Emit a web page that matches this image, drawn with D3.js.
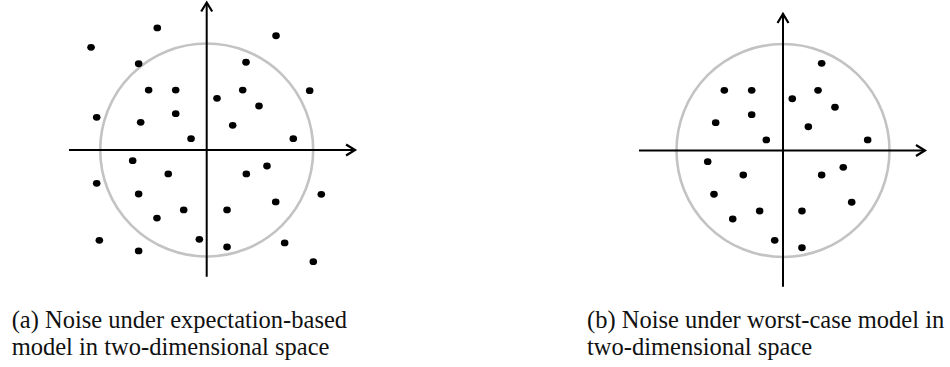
<!DOCTYPE html>
<html>
<head>
<meta charset="utf-8">
<script src="https://cdn.jsdelivr.net/npm/d3@7"></script>
<style>
  html, body { margin: 0; padding: 0; background: #fff; }
  svg { display: block; }
</style>
</head>
<body>
<svg id="chart" width="950" height="367"></svg>
<script>
// ---- Data (noise samples, circle radius = 100 units) ----
const noiseAX = [-108.6,-46.4,65.1,-63.9,36.9,-54.5,-29.1,33.8,96.7,9.7,49.1,-103.3,-62.0,-29.1,24.4,-14.7,81.3,-69.5,-36.1,-103.3,-63.9,37.2,56.6,107.6,64.8,-21.6,-46.7,19.1,-100.8,-63.9,-6.9,19.1,73.2,100.1];
const noiseAY = [96.4,114.6,107.3,81.0,82.4,56.3,56.3,56.3,55.7,48.5,41.3,30.7,26.0,34.1,23.2,10.6,10.6,-10.0,-22.5,-31.3,-41.3,-22.5,-15.0,-41.6,-48.8,-56.3,-63.9,-56.3,-84.8,-94.8,-83.9,-91.1,-87.3,-104.9];
const noiseBX = [36.3,-55.1,-29.4,32.9,8.7,48.8,-63.2,-29.4,23.8,-15.7,79.5,-70.7,-37.3,-64.8,36.3,56.6,64.5,-21.9,-47.2,17.8,-7.8,17.8];
const noiseBY = [81.9,56.5,56.5,56.5,48.6,40.6,26.1,33.6,22.3,9.9,9.9,-10.5,-23.0,-41.1,-23.0,-15.8,-48.6,-56.8,-64.3,-56.8,-84.3,-91.3];
const boundRadius = 100;
const captionA = ["(a) Noise under expectation-based", "model in two-dimensional space"];
const captionB = ["(b) Noise under worst-case model in", "two-dimensional space"];

// ---- Layout ----
const svg = d3.select("#chart");
const pxPerUnit = 1.065;
const panels = [
  { xs: noiseAX, ys: noiseAY, cx: 206.7, cy: 150, xExt: [-129.3, 139.3], yExt: [138.5, -119], caption: captionA, capX: 11.7 },
  { xs: noiseBX, ys: noiseBY, cx: 783, cy: 150.5, xExt: [-135.2, 133.3], yExt: [128.2, -127.9], caption: captionB, capX: 587 }
];

function arrowHead(g, tipX, tipY, dir) {
  const L = 9, W = 5.5;
  let pts;
  if (dir === "right") pts = [[tipX - L, tipY - W], [tipX, tipY], [tipX - L, tipY + W]];
  else pts = [[tipX - W, tipY + L], [tipX, tipY], [tipX + W, tipY + L]];
  g.append("path")
    .attr("d", d3.line()(pts))
    .attr("fill", "none")
    .attr("stroke", "#000")
    .attr("stroke-width", 2.2)
    .attr("stroke-linejoin", "miter");
}

panels.forEach(p => {
  const x = d3.scaleLinear().domain([-100, 100]).range([p.cx - 100 * pxPerUnit, p.cx + 100 * pxPerUnit]);
  const y = d3.scaleLinear().domain([-100, 100]).range([p.cy + 100 * pxPerUnit, p.cy - 100 * pxPerUnit]);
  const g = svg.append("g");

  g.append("circle")
    .attr("cx", x(0)).attr("cy", y(0))
    .attr("r", x(boundRadius) - x(0))
    .attr("fill", "none")
    .attr("stroke", "#c3c3c3")
    .attr("stroke-width", 2.6);

  g.append("line")
    .attr("x1", x(p.xExt[0])).attr("x2", x(p.xExt[1]) - 1)
    .attr("y1", y(0)).attr("y2", y(0))
    .attr("stroke", "#000").attr("stroke-width", 2);
  g.append("line")
    .attr("x1", x(0)).attr("x2", x(0))
    .attr("y1", y(p.yExt[0]) + 1).attr("y2", y(p.yExt[1]))
    .attr("stroke", "#000").attr("stroke-width", 2);
  arrowHead(g, x(p.xExt[1]), y(0), "right");
  arrowHead(g, x(0), y(p.yExt[0]), "up");

  g.selectAll("ellipse.pt")
    .data(d3.range(p.xs.length))
    .join("ellipse")
    .attr("class", "pt")
    .attr("cx", i => x(p.xs[i]))
    .attr("cy", i => y(p.ys[i]))
    .attr("rx", 3.8).attr("ry", 3.4)
    .attr("fill", "#000");

  const t = svg.append("text")
    .attr("font-family", "'Liberation Serif', 'Times New Roman', serif")
    .attr("font-size", 24.5)
    .attr("fill", "#111");
  p.caption.forEach((line, i) => {
    t.append("tspan").attr("x", p.capX).attr("y", 328.3 + i * 27).text(line);
  });
});
</script>
</body>
</html>
